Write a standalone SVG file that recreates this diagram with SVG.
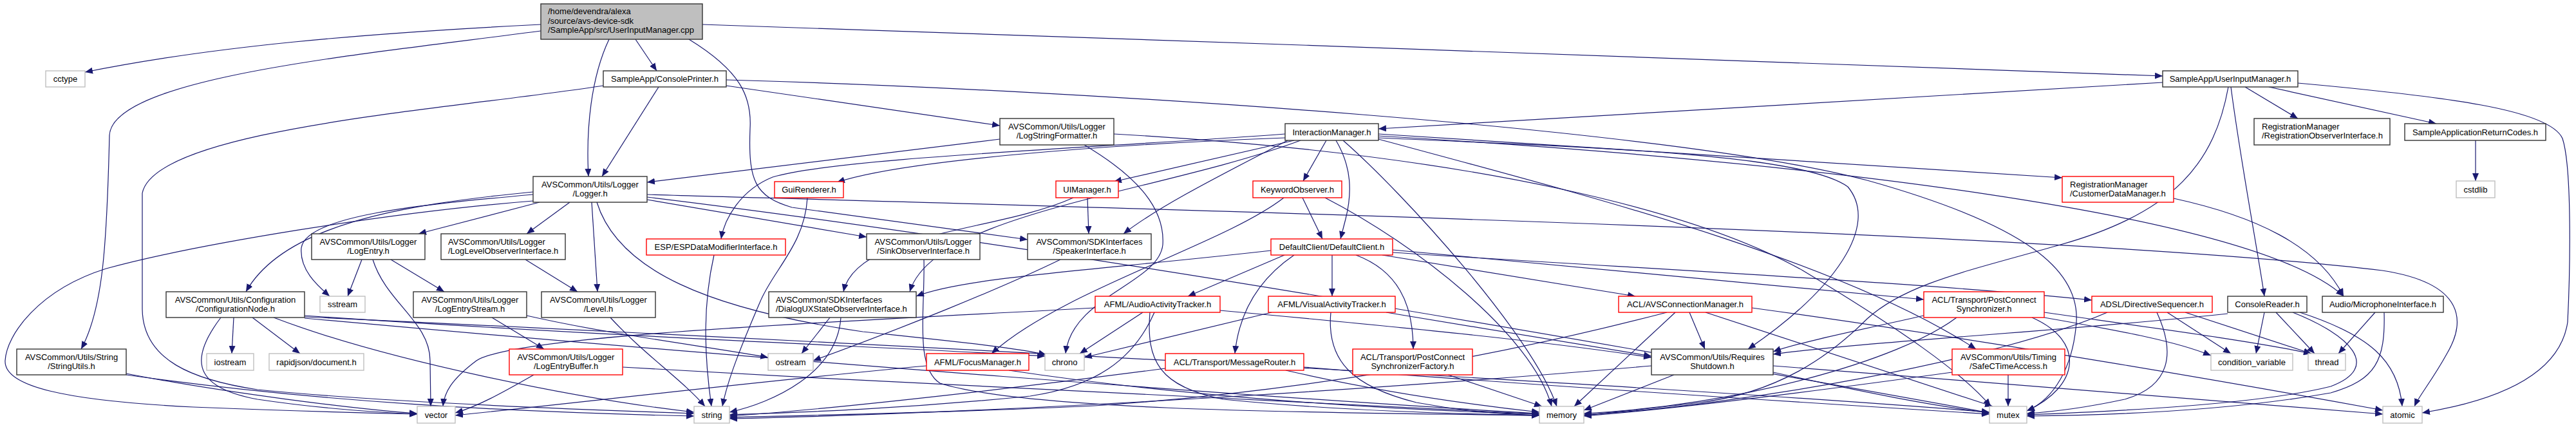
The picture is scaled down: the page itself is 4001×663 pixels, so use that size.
<svg xmlns="http://www.w3.org/2000/svg" width="4001" height="663" viewBox="0 0 4001 663">
<style>
.e{fill:none;stroke:#191970;stroke-width:1.2;marker-end:url(#ah)}
.nb{fill:#fff;stroke:#333;stroke-width:1.4}
.nr{fill:#fff;stroke:#f00;stroke-width:1.4}
.ng{fill:#fff;stroke:#bfbfbf;stroke-width:1.4}
.nm{fill:#bfbfbf;stroke:#333;stroke-width:1.4}
text{font-family:"Liberation Sans",Arial,Helvetica,sans-serif;font-size:13px;fill:#000;text-anchor:middle}
text.l{text-anchor:start}
</style>
<defs>
<marker id="ah" viewBox="0 0 12 10" refX="12" refY="5" markerWidth="12" markerHeight="10" markerUnits="userSpaceOnUse" orient="auto"><path d="M0,0 L12,5 L0,10 z" fill="#191970"/></marker>
</defs>
<rect x="0" y="0" width="4001" height="663" fill="#fff"/>
<g id="edges">
<path class="e" d="M840,38 C560,52 330,72 132,112"/>
<path class="e" d="M987,61 L1020,110"/>
<path class="e" d="M1091,38 C1800,60 2800,100 3359,118"/>
<path class="e" d="M946,61 C918,120 910,200 914,274"/>
<path class="e" d="M840,48 C560,85 175,120 170,210 C166,380 160,480 126,542"/>
<path class="e" d="M1070,61 C1150,110 1168,150 1165,200 C1162,280 1172,305 1230,322 L1596,372"/>
<path class="e" d="M1023,135 L935,274"/>
<path class="e" d="M1128,133 L1553,195"/>
<path class="e" d="M937,133 C700,170 240,200 221,300 L221,480 C222,560 300,590 400,605 C600,625 900,636 1078,642"/>
<path class="e" d="M1128,124 C1700,140 2600,200 2900,280 C3150,350 3230,420 3225,500 C3220,570 3190,620 3148,638"/>
<path class="e" d="M3359,128 L2141,200"/>
<path class="e" d="M3487,135 L3569,184"/>
<path class="e" d="M3524,135 L3784,192"/>
<path class="e" d="M3465,135 C3480,250 3505,380 3517,460"/>
<path class="e" d="M3569,129 C3800,150 3960,170 3980,215 C3995,260 3992,420 3988,500 C3975,590 3860,625 3762,641"/>
<path class="e" d="M3461,135 C3440,250 3380,330 3200,380 C3060,420 2960,440 2900,495 C2840,555 2760,610 2640,625 C2560,635 2500,640 2460,645"/>
<path class="e" d="M3845,218 L3845,281"/>
<path class="e" d="M1553,216 L1005,283"/>
<path class="e" d="M1684,225 C1760,270 1810,320 1806,380 C1800,440 1665,460 1655,549"/>
<path class="e" d="M1730,208 C2300,240 2640,330 2800,420 C2950,510 3050,580 3092,631"/>
<path class="e" d="M838,314 L650,363"/>
<path class="e" d="M885,314 L818,363"/>
<path class="e" d="M919,314 L928,453"/>
<path class="e" d="M828,298 C620,318 440,350 382,453"/>
<path class="e" d="M828,302 C650,318 475,335 468,385 C465,420 495,445 512,460"/>
<path class="e" d="M828,312 C600,330 300,380 165,417 C60,450 10,520 8,560 C6,600 100,622 300,632 C450,638 560,641 648,643"/>
<path class="e" d="M927,314 C960,420 1100,480 1340,515 C1480,530 1580,540 1625,551"/>
<path class="e" d="M1005,310 L1346,368"/>
<path class="e" d="M1005,302 C1800,325 3200,360 3700,420 C3830,440 3830,500 3800,550 C3778,590 3757,615 3750,631"/>
<path class="e" d="M1005,306 C1700,390 2700,570 3090,641"/>
<path class="e" d="M562,403 L540,460"/>
<path class="e" d="M607,403 L690,453"/>
<path class="e" d="M579,403 C600,470 668,500 668,560 L669,631"/>
<path class="e" d="M816,403 L897,453"/>
<path class="e" d="M764,493 L845,542"/>
<path class="e" d="M818,490 C950,520 1100,538 1193,555"/>
<path class="e" d="M948,493 C1000,550 1060,590 1095,631"/>
<path class="e" d="M829,582 C780,610 740,632 707,641"/>
<path class="e" d="M967,570 C1500,600 2100,632 2391,643"/>
<path class="e" d="M1109,396 C1090,480 1095,560 1105,631"/>
<path class="e" d="M1254,307 C1250,380 1200,420 1180,470 C1150,540 1130,590 1122,631"/>
<path class="e" d="M1289,493 L1245,549"/>
<path class="e" d="M1306,493 C1300,580 1200,625 1133,640"/>
<path class="e" d="M1435,403 C1437,480 1420,570 1460,595 C1600,640 2100,641 2391,645"/>
<path class="e" d="M1647,403 C1550,450 1400,510 1263,560"/>
<path class="e" d="M1689,307 L1691,363"/>
<path class="e" d="M1667,307 C1550,360 1330,360 1310,453"/>
<path class="e" d="M1996,214 C1700,225 1400,250 1300,283"/>
<path class="e" d="M2010,218 L1730,282"/>
<path class="e" d="M1996,208 C1700,230 1300,245 1200,275 C1150,295 1125,340 1120,371"/>
<path class="e" d="M2060,218 L2024,281"/>
<path class="e" d="M2075,218 C2100,260 2100,300 2090,340 L2082,371"/>
<path class="e" d="M2086,218 C2180,300 2380,520 2418,631"/>
<path class="e" d="M2000,218 C1900,270 1800,320 1745,363"/>
<path class="e" d="M2020,218 C1800,300 1450,330 1413,453"/>
<path class="e" d="M2141,208 L3203,276"/>
<path class="e" d="M2141,211 C2800,250 3500,330 3640,460"/>
<path class="e" d="M2141,214 C2500,230 2800,240 2870,290 C2920,350 2850,450 2715,542"/>
<path class="e" d="M2141,216 C2450,300 2850,400 3069,542"/>
<path class="e" d="M2069,396 L2069,460"/>
<path class="e" d="M2106,396 C2170,420 2195,470 2195,542"/>
<path class="e" d="M2147,396 L2540,460"/>
<path class="e" d="M2163,388 L2988,465"/>
<path class="e" d="M2163,392 C2600,420 3000,440 3249,466"/>
<path class="e" d="M1995,396 L1845,460"/>
<path class="e" d="M1974,389 C1700,420 1500,430 1423,460"/>
<path class="e" d="M1994,307 C1900,380 1650,450 1540,549"/>
<path class="e" d="M2010,396 C1960,430 1925,480 1918,549"/>
<path class="e" d="M1775,485 L1677,549"/>
<path class="e" d="M1701,478 C1300,500 800,520 740,560 C700,590 690,610 688,631"/>
<path class="e" d="M1793,485 C1760,560 1700,600 1600,615 C1400,635 1250,640 1133,644"/>
<path class="e" d="M1786,485 C1780,560 1800,600 1900,620 C2100,640 2300,643 2391,645"/>
<path class="e" d="M1895,482 C2200,510 2400,530 2565,555"/>
<path class="e" d="M1975,485 L1684,555"/>
<path class="e" d="M2067,485 C2060,560 2100,600 2200,625 C2280,640 2340,643 2391,645"/>
<path class="e" d="M2153,485 L2565,553"/>
<path class="e" d="M2602,485 L2445,631"/>
<path class="e" d="M2624,485 L2648,542"/>
<path class="e" d="M2589,485 C2300,560 2000,610 1700,630 C1500,640 1250,645 1133,648"/>
<path class="e" d="M2649,485 L3095,631"/>
<path class="e" d="M2721,478 C3100,530 3500,600 3701,637"/>
<path class="e" d="M2988,490 C2900,510 2800,530 2754,546"/>
<path class="e" d="M3039,493 C2950,560 2700,630 2460,642"/>
<path class="e" d="M3156,493 C3240,530 3230,600 3148,638"/>
<path class="e" d="M3175,485 C3350,510 3500,530 3590,549"/>
<path class="e" d="M3175,493 C3300,515 3380,530 3434,552"/>
<path class="e" d="M3366,485 L3465,549"/>
<path class="e" d="M3394,485 L3590,549"/>
<path class="e" d="M3350,485 C3380,550 3370,600 3300,620 C3230,635 3180,640 3148,642"/>
<path class="e" d="M3273,485 C3100,560 2700,630 2460,644"/>
<path class="e" d="M3517,485 L3504,549"/>
<path class="e" d="M3535,485 L3595,549"/>
<path class="e" d="M3561,485 C3650,520 3700,570 3620,600 C3500,630 3250,640 3148,644"/>
<path class="e" d="M3572,485 C3680,520 3725,560 3731,631"/>
<path class="e" d="M3460,487 C3200,515 2900,530 2754,550"/>
<path class="e" d="M3689,485 L3632,549"/>
<path class="e" d="M3703,485 C3705,560 3690,590 3620,610 C3450,640 3250,645 3148,646"/>
<path class="e" d="M2600,582 L2460,637"/>
<path class="e" d="M2565,568 C2200,600 1600,640 1133,650"/>
<path class="e" d="M2754,578 C2900,610 3000,630 3090,641"/>
<path class="e" d="M2754,568 C3100,595 3500,625 3701,643"/>
<path class="e" d="M3119,582 L3119,631"/>
<path class="e" d="M3032,578 C2800,610 2600,635 2460,646"/>
<path class="e" d="M1439,568 C1200,590 900,625 707,645"/>
<path class="e" d="M1567,575 C1800,610 2100,635 2391,643"/>
<path class="e" d="M1810,572 C1600,600 1300,635 1133,646"/>
<path class="e" d="M1997,575 C2150,610 2300,630 2391,640"/>
<path class="e" d="M2025,570 C2400,600 2800,625 3090,643"/>
<path class="e" d="M2249,582 L2395,631"/>
<path class="e" d="M196,580 C350,610 550,635 648,642"/>
<path class="e" d="M196,582 C500,625 800,640 1078,646"/>
<path class="e" d="M363,493 L360,549"/>
<path class="e" d="M392,493 L466,549"/>
<path class="e" d="M343,493 C300,550 290,600 400,620 C500,635 580,640 648,643"/>
<path class="e" d="M425,493 C600,560 900,620 1078,640"/>
<path class="e" d="M473,490 C900,520 1400,540 1623,553"/>
<path class="e" d="M473,494 C1200,560 2000,620 2391,642"/>
<path class="e" d="M473,492 C1500,540 2600,600 3090,640"/>
<path class="e" d="M2023,307 L2054,371"/>
<path class="e" d="M2058,307 C2200,380 2380,520 2410,631"/>
<path class="e" d="M3376,308 C3500,335 3600,380 3640,460"/>
</g>
<g id="node-main"><rect class="nm" x="840" y="6" width="251" height="55"/><text class="l" x="851" y="22">/home/devendra/alexa</text><text class="l" x="851" y="37">/source/avs-device-sdk</text><text class="l" x="851" y="51">/SampleApp/src/UserInputManager.cpp</text></g>
<g id="node-cctype"><rect class="ng" x="71" y="110" width="61" height="25"/><text x="101.5" y="127">cctype</text></g>
<g id="node-consoleprinter"><rect class="nb" x="937" y="110" width="191" height="25"/><text x="1032.5" y="127">SampleApp/ConsolePrinter.h</text></g>
<g id="node-userinputmanager-h"><rect class="nb" x="3359" y="110" width="210" height="25"/><text x="3464" y="127">SampleApp/UserInputManager.h</text></g>
<g id="node-logstringformatter"><rect class="nb" x="1553" y="184" width="177" height="41"/><text x="1641.5" y="201">AVSCommon/Utils/Logger</text><text x="1641.5" y="215">/LogStringFormatter.h</text></g>
<g id="node-interactionmanager"><rect class="nb" x="1996" y="192" width="145" height="26"/><text x="2068.5" y="210">InteractionManager.h</text></g>
<g id="node-registrationobserver"><rect class="nb" x="3501" y="184" width="211" height="41"/><text class="l" x="3513" y="201">RegistrationManager</text><text class="l" x="3513" y="215">/RegistrationObserverInterface.h</text></g>
<g id="node-returncodes"><rect class="nb" x="3735" y="192" width="219" height="26"/><text x="3844.5" y="210">SampleApplicationReturnCodes.h</text></g>
<g id="node-logger"><rect class="nb" x="828" y="274" width="177" height="40"/><text x="916.5" y="291">AVSCommon/Utils/Logger</text><text x="916.5" y="305">/Logger.h</text></g>
<g id="node-guirenderer"><rect class="nr" x="1203" y="282" width="107" height="25"/><text x="1256.5" y="299">GuiRenderer.h</text></g>
<g id="node-uimanager"><rect class="nr" x="1640" y="281" width="97" height="26"/><text x="1688.5" y="299">UIManager.h</text></g>
<g id="node-keywordobserver"><rect class="nr" x="1946" y="281" width="138" height="26"/><text x="2015" y="299">KeywordObserver.h</text></g>
<g id="node-customerdatamanager"><rect class="nr" x="3203" y="274" width="173" height="40"/><text class="l" x="3215" y="291">RegistrationManager</text><text class="l" x="3215" y="305">/CustomerDataManager.h</text></g>
<g id="node-cstdlib"><rect class="ng" x="3815" y="281" width="60" height="26"/><text x="3845" y="299">cstdlib</text></g>
<g id="node-logentry"><rect class="nb" x="484" y="363" width="176" height="40"/><text x="572" y="380">AVSCommon/Utils/Logger</text><text x="572" y="394">/LogEntry.h</text></g>
<g id="node-loglevelobserver"><rect class="nb" x="685" y="363" width="193" height="40"/><text class="l" x="696" y="380">AVSCommon/Utils/Logger</text><text class="l" x="696" y="394">/LogLevelObserverInterface.h</text></g>
<g id="node-esp"><rect class="nr" x="1004" y="371" width="216" height="25"/><text x="1112" y="388">ESP/ESPDataModifierInterface.h</text></g>
<g id="node-sinkobserver"><rect class="nb" x="1346" y="363" width="176" height="40"/><text x="1434" y="380">AVSCommon/Utils/Logger</text><text x="1434" y="394">/SinkObserverInterface.h</text></g>
<g id="node-speakerinterface"><rect class="nb" x="1596" y="363" width="192" height="40"/><text x="1692" y="380">AVSCommon/SDKInterfaces</text><text x="1692" y="394">/SpeakerInterface.h</text></g>
<g id="node-defaultclient"><rect class="nr" x="1974" y="371" width="189" height="25"/><text x="2068.5" y="388">DefaultClient/DefaultClient.h</text></g>
<g id="node-configurationnode"><rect class="nb" x="258" y="453" width="215" height="40"/><text x="365.5" y="470">AVSCommon/Utils/Configuration</text><text x="365.5" y="484">/ConfigurationNode.h</text></g>
<g id="node-sstream"><rect class="ng" x="497" y="460" width="70" height="25"/><text x="532" y="477">sstream</text></g>
<g id="node-logentrystream"><rect class="nb" x="642" y="453" width="176" height="40"/><text x="730" y="470">AVSCommon/Utils/Logger</text><text x="730" y="484">/LogEntryStream.h</text></g>
<g id="node-level"><rect class="nb" x="841" y="453" width="177" height="40"/><text x="929.5" y="470">AVSCommon/Utils/Logger</text><text x="929.5" y="484">/Level.h</text></g>
<g id="node-dialogux"><rect class="nb" x="1194" y="453" width="229" height="40"/><text class="l" x="1205" y="470">AVSCommon/SDKInterfaces</text><text class="l" x="1205" y="484">/DialogUXStateObserverInterface.h</text></g>
<g id="node-audioactivitytracker"><rect class="nr" x="1701" y="460" width="194" height="25"/><text x="1798" y="477">AFML/AudioActivityTracker.h</text></g>
<g id="node-visualactivitytracker"><rect class="nr" x="1970" y="460" width="197" height="25"/><text x="2068.5" y="477">AFML/VisualActivityTracker.h</text></g>
<g id="node-avsconnectionmanager"><rect class="nr" x="2514" y="460" width="207" height="25"/><text x="2617.5" y="477">ACL/AVSConnectionManager.h</text></g>
<g id="node-postconnectsync"><rect class="nr" x="2988" y="453" width="187" height="40"/><text x="3081.5" y="470">ACL/Transport/PostConnect</text><text x="3081.5" y="484">Synchronizer.h</text></g>
<g id="node-directivesequencer"><rect class="nr" x="3249" y="460" width="187" height="25"/><text x="3342.5" y="477">ADSL/DirectiveSequencer.h</text></g>
<g id="node-consolereader"><rect class="nb" x="3460" y="460" width="123" height="25"/><text x="3521.5" y="477">ConsoleReader.h</text></g>
<g id="node-microphoneinterface"><rect class="nb" x="3607" y="460" width="188" height="25"/><text x="3701" y="477">Audio/MicrophoneInterface.h</text></g>
<g id="node-stringutils"><rect class="nb" x="26" y="542" width="170" height="40"/><text x="111" y="559">AVSCommon/Utils/String</text><text x="111" y="573">/StringUtils.h</text></g>
<g id="node-iostream"><rect class="ng" x="321" y="549" width="73" height="26"/><text x="357.5" y="567">iostream</text></g>
<g id="node-rapidjson"><rect class="ng" x="418" y="549" width="147" height="26"/><text x="491.5" y="567">rapidjson/document.h</text></g>
<g id="node-logentrybuffer"><rect class="nr" x="791" y="542" width="176" height="40"/><text x="879" y="559">AVSCommon/Utils/Logger</text><text x="879" y="573">/LogEntryBuffer.h</text></g>
<g id="node-ostream"><rect class="ng" x="1193" y="549" width="70" height="26"/><text x="1228" y="567">ostream</text></g>
<g id="node-focusmanager"><rect class="nr" x="1439" y="549" width="159" height="26"/><text x="1518.5" y="567">AFML/FocusManager.h</text></g>
<g id="node-chrono"><rect class="ng" x="1623" y="549" width="61" height="26"/><text x="1653.5" y="567">chrono</text></g>
<g id="node-messagerouter"><rect class="nr" x="1810" y="549" width="215" height="26"/><text x="1917.5" y="567">ACL/Transport/MessageRouter.h</text></g>
<g id="node-postconnectsyncfactory"><rect class="nr" x="2101" y="542" width="186" height="40"/><text x="2194" y="559">ACL/Transport/PostConnect</text><text x="2194" y="573">SynchronizerFactory.h</text></g>
<g id="node-requiresshutdown"><rect class="nb" x="2565" y="542" width="189" height="40"/><text x="2659.5" y="559">AVSCommon/Utils/Requires</text><text x="2659.5" y="573">Shutdown.h</text></g>
<g id="node-safectimeaccess"><rect class="nr" x="3032" y="542" width="175" height="40"/><text x="3119.5" y="559">AVSCommon/Utils/Timing</text><text x="3119.5" y="573">/SafeCTimeAccess.h</text></g>
<g id="node-condition-variable"><rect class="ng" x="3434" y="549" width="127" height="26"/><text x="3497.5" y="567">condition_variable</text></g>
<g id="node-thread"><rect class="ng" x="3585" y="549" width="58" height="26"/><text x="3614" y="567">thread</text></g>
<g id="node-vector"><rect class="ng" x="648" y="631" width="59" height="26"/><text x="677.5" y="649">vector</text></g>
<g id="node-string"><rect class="ng" x="1078" y="631" width="55" height="26"/><text x="1105.5" y="649">string</text></g>
<g id="node-memory"><rect class="ng" x="2391" y="631" width="69" height="26"/><text x="2425.5" y="649">memory</text></g>
<g id="node-mutex"><rect class="ng" x="3090" y="631" width="58" height="26"/><text x="3119" y="649">mutex</text></g>
<g id="node-atomic"><rect class="ng" x="3701" y="631" width="61" height="26"/><text x="3731.5" y="649">atomic</text></g>
</svg>
